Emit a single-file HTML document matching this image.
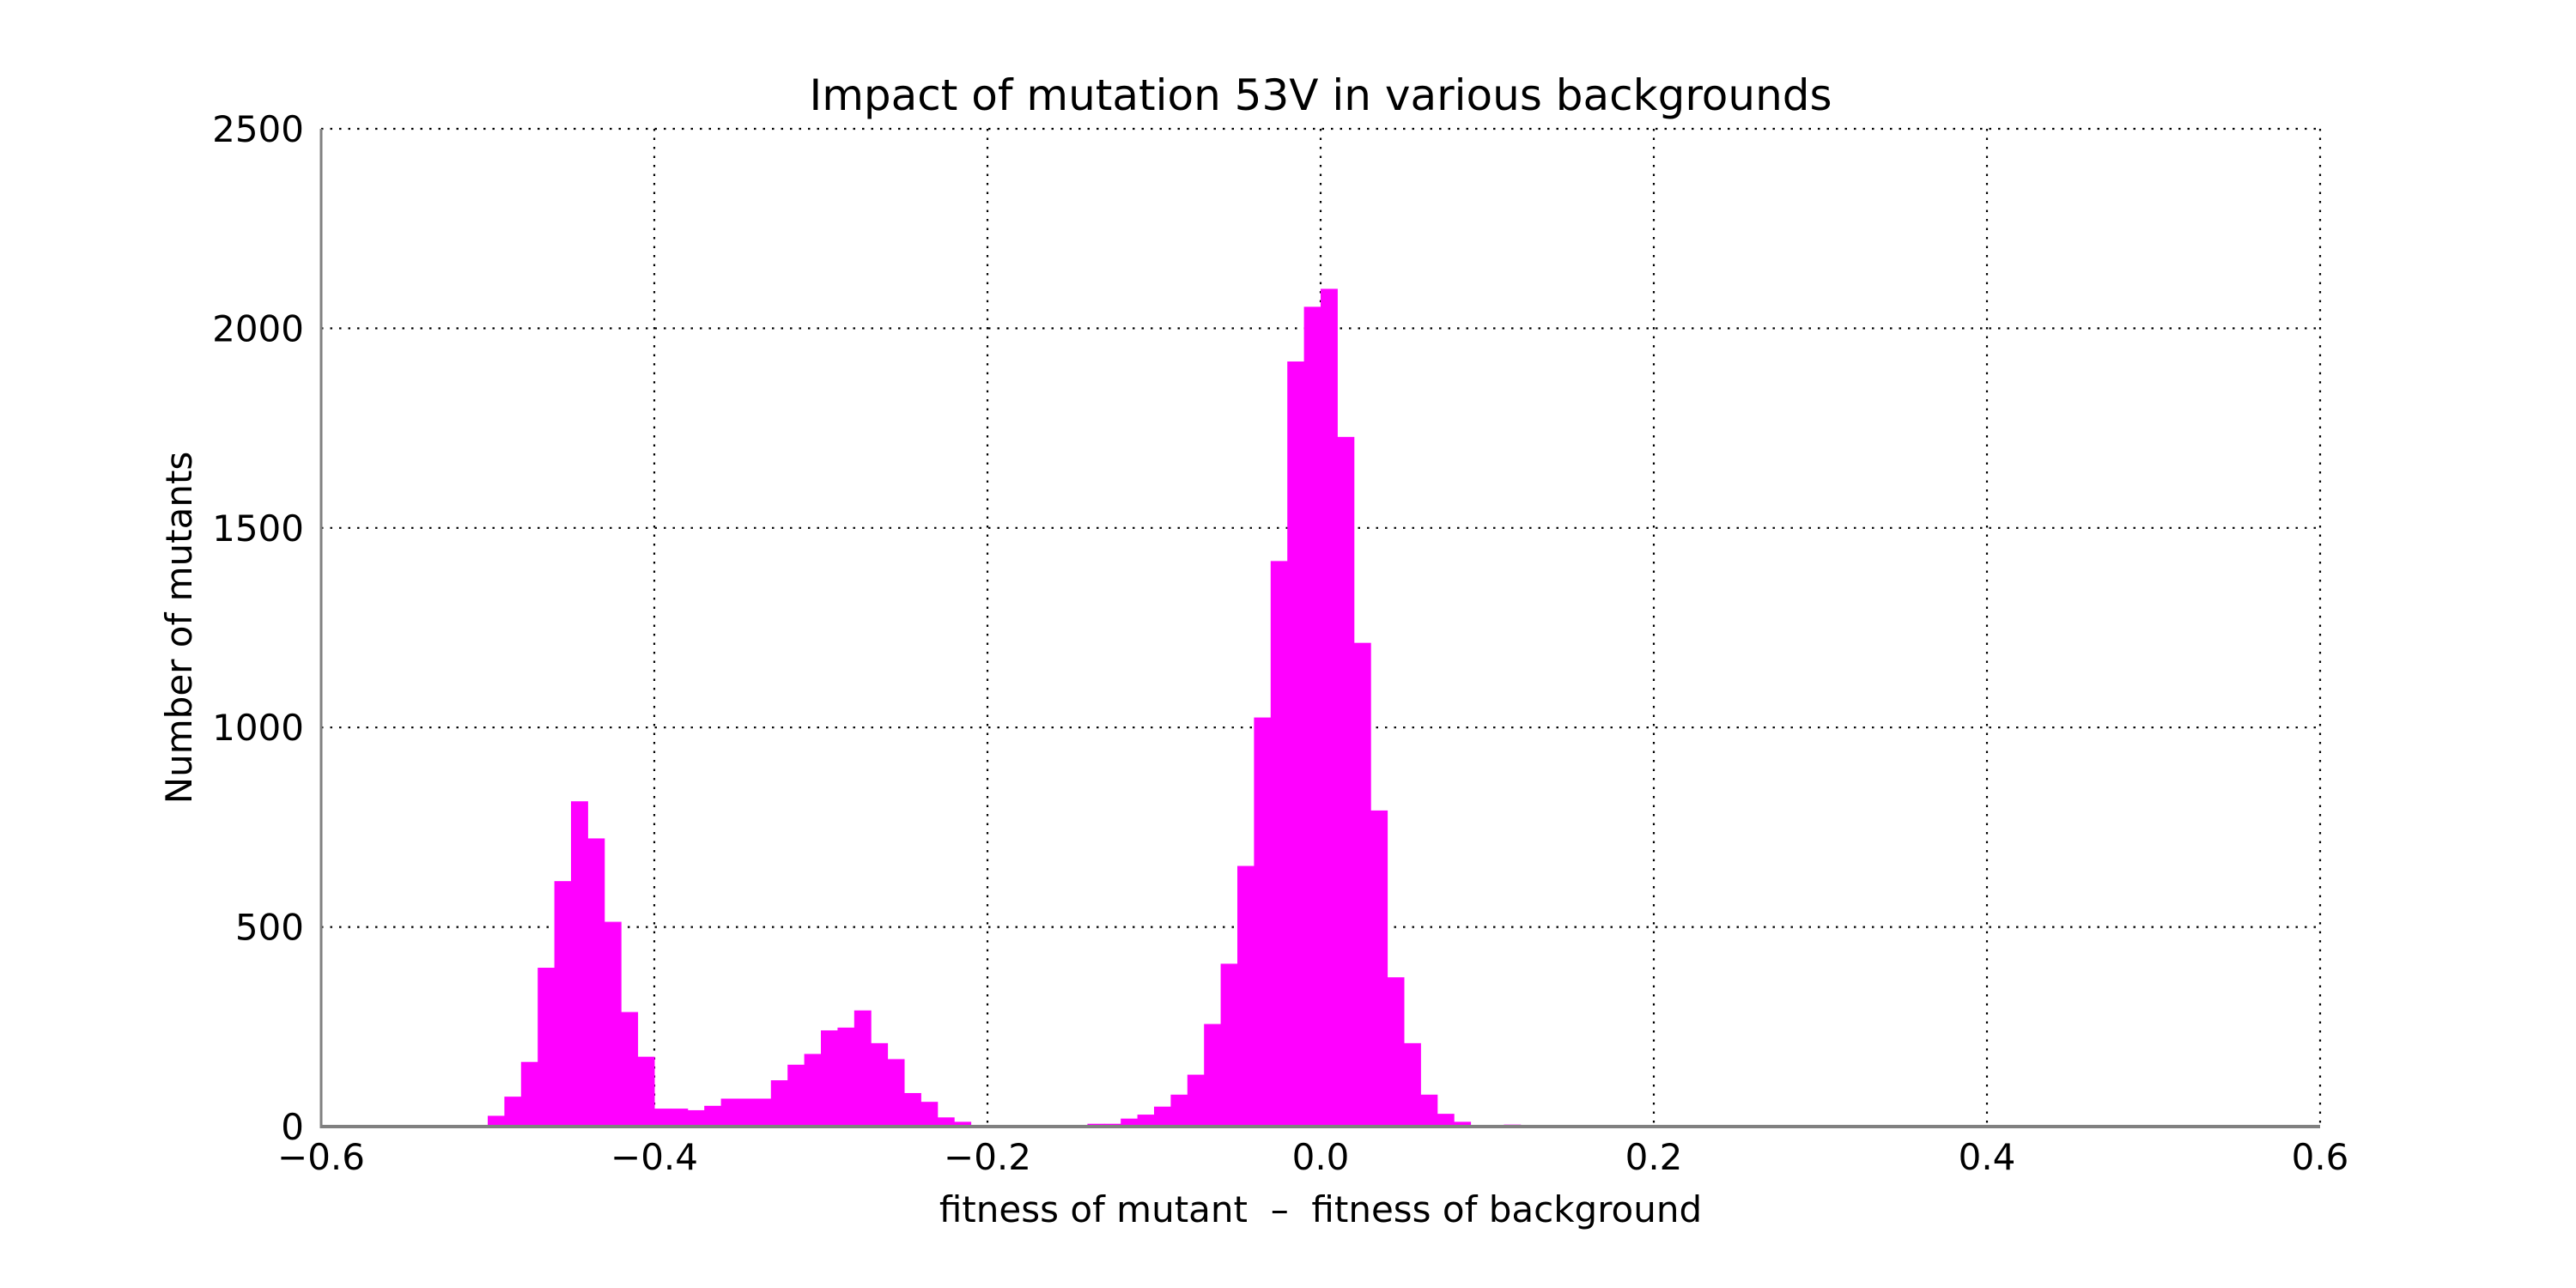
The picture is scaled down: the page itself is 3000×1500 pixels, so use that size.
<!DOCTYPE html>
<html><head><meta charset="utf-8"><style>
html,body{margin:0;padding:0;background:#fff;}
svg{display:block;}
text{font-family:"DejaVu Sans","Liberation Sans",sans-serif;fill:#000;}
</style></head><body>
<svg id="chart" width="3000" height="1500" viewBox="0 0 3000 1500" xmlns="http://www.w3.org/2000/svg">
<rect width="3000" height="1500" fill="#fff"/>
<g id="grid"></g>
<g id="bars"></g>
<g id="axes"></g>
<text x="1538" y="128" font-size="50" text-anchor="middle">Impact of mutation 53V in various backgrounds</text>
<text x="1538" y="1423" font-size="42" text-anchor="middle">fitness of mutant&#160;&#160;–&#160;&#160;fitness of background</text>
<text x="0" y="0" font-size="42" text-anchor="middle" transform="translate(223,731) rotate(-90)">Number of mutants</text>
</svg>
<script>
const binStarts = [-0.50,-0.49,-0.48,-0.47,-0.46,-0.45,-0.44,-0.43,-0.42,-0.41,-0.40,-0.39,-0.38,-0.37,-0.36,-0.35,-0.34,-0.33,-0.32,-0.31,-0.30,-0.29,-0.28,-0.27,-0.26,-0.25,-0.24,-0.23,-0.22,-0.21,-0.20,-0.19,-0.18,-0.17,-0.16,-0.15,-0.14,-0.13,-0.12,-0.11,-0.10,-0.09,-0.08,-0.07,-0.06,-0.05,-0.04,-0.03,-0.02,-0.01,0.00,0.01,0.02,0.03,0.04,0.05,0.06,0.07,0.08,0.09,0.10,0.11];
const counts = [27,75,162,398,615,815,722,513,287,175,45,45,41,52,70,70,70,116,155,182,241,248,291,209,169,84,62,23,12,0,0,0,0,1,2,4,7,7,20,30,50,80,130,257,408,653,1025,1417,1917,2054,2099,1728,1212,792,374,209,80,32,12,4,2,5];
const binWidth = 0.01;
const xTicks = [-0.6,-0.4,-0.2,0.0,0.2,0.4,0.6];
const xTickLabels = ["\u22120.6","\u22120.4","\u22120.2","0.0","0.2","0.4","0.6"];
const yTicks = [0,500,1000,1500,2000,2500];
const yTickLabels = ["0","500","1000","1500","2000","2500"];

const X0=374, X1=2702, Y0=1312, Y1=150;
const xMin=-0.6, xMax=0.6, yMin=0, yMax=2500;
const xs = v => X0 + (v - xMin) / (xMax - xMin) * (X1 - X0);
const ys = v => Y0 - (v - yMin) / (yMax - yMin) * (Y0 - Y1);
const NS="http://www.w3.org/2000/svg";
function mk(tag, attrs, parent){const e=document.createElementNS(NS,tag);for(const k in attrs)e.setAttribute(k,attrs[k]);parent.appendChild(e);return e;}
const grid=document.getElementById('grid'), bars=document.getElementById('bars'), axes=document.getElementById('axes');

yTicks.forEach((t,i)=>{
  const l=mk('line',{x1:X0,x2:X1,y1:ys(t),y2:ys(t),stroke:'#000','stroke-width':2.2,'stroke-dasharray':'2.5 8'},grid);
  
  
  const tx=mk('text',{x:X0-20,y:ys(t)+15,'font-size':42,'text-anchor':'end'},axes);
  tx.textContent=yTickLabels[i];
  
  
});
xTicks.forEach((t,i)=>{
  const l=mk('line',{x1:xs(t),x2:xs(t),y1:Y1,y2:Y0,stroke:'#000','stroke-width':2.2,'stroke-dasharray':'2.5 8'},grid);
  
  
  const tx=mk('text',{x:xs(t),y:1362,'font-size':42,'text-anchor':'middle'},axes);
  tx.textContent=xTickLabels[i];
  
  
});
binStarts.forEach((b,i)=>{
  if(counts[i]<=0) return;
  const x=xs(b), w=xs(b+binWidth)-x;
  const r=mk('rect',{x:x,y:ys(counts[i]),width:w+0.5,height:Y0-ys(counts[i]),fill:'#ff00ff'},bars);
  
  
});
const ly=mk('line',{x1:X0,x2:X0,y1:Y1,y2:Y0+2,stroke:'#808080','stroke-width':3},axes);


const lx=mk('line',{x1:X0,x2:X1,y1:Y0,y2:Y0,stroke:'#808080','stroke-width':4},axes);


</script>
</body></html>
